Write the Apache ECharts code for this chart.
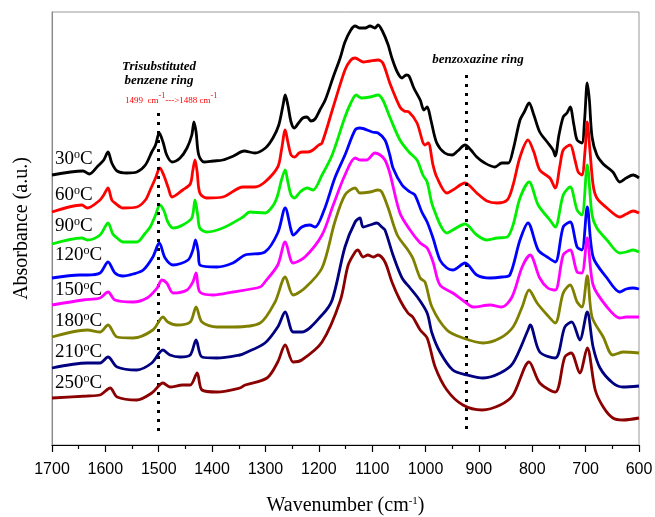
<!DOCTYPE html>
<html>
<head>
<meta charset="utf-8">
<script src="https://cdn.jsdelivr.net/npm/echarts@6/dist/echarts.min.js"></script>
<style>
  html, body { margin: 0; padding: 0; background: #fff; }
  #main { width: 655px; height: 517px; }
</style>
</head>
<body>
<div id="main"></div>
<script>
// FTIR spectra, [wavenumber, absorbance (arbitrary units, stacked)]
var s30 = [[1700,270],[1642,274],[1630,271],[1614,279],[1603,285],[1595,293],[1588,282],[1578,274],[1560,272],[1541,273],[1525,280],[1513,293],[1506,300],[1499,312],[1492,303],[1485,290],[1475,283],[1460,287],[1447,297],[1438,310],[1434,323],[1430,313],[1425,290],[1415,283],[1398,284],[1380,285],[1360,289],[1340,294],[1320,292],[1300,297],[1286,307],[1275,320],[1267,340],[1263,350],[1258,340],[1252,323],[1246,317],[1238,322],[1230,327],[1222,328],[1215,324],[1207,326],[1198,335],[1188,345],[1173,368],[1160,387],[1151,403],[1140,415],[1132,419],[1123,417],[1113,417],[1104,419],[1095,417],[1089,420],[1080,413],[1070,400],[1063,387],[1053,373],[1044,367],[1036,370],[1031,369],[1022,357],[1010,345],[1003,335],[997,338],[990,325],[979,302],[964,292],[950,290],[940,294],[926,300],[915,295],[904,288],[889,282],[870,278],[857,282],[845,282],[836,295],[823,325],[815,333],[806,342],[797,330],[786,313],[772,303],[761,295],[757,289],[750,310],[742,328],[735,332],[729,338],[722,320],[716,305],[707,302],[702,325],[697,362],[693,345],[688,308],[679,290],[667,281],[649,273],[636,263],[624,267],[611,270],[600,267]];

var s60 = [[1700,233],[1644,240],[1634,237],[1610,245],[1603,250],[1595,257],[1588,245],[1582,242],[1567,237],[1541,238],[1525,245],[1516,255],[1506,267],[1498,277],[1490,269],[1482,257],[1475,248],[1455,255],[1441,261],[1436,275],[1432,285],[1428,273],[1423,252],[1410,247],[1380,248],[1342,258],[1320,258],[1301,263],[1277,278],[1270,295],[1263,315],[1258,303],[1252,290],[1245,288],[1237,292],[1230,293],[1220,293],[1211,295],[1200,300],[1194,302],[1173,338],[1151,375],[1140,385],[1132,387],[1117,383],[1104,384],[1089,385],[1080,382],[1067,362],[1048,338],[1040,334],[1031,333],[1016,322],[1001,300],[995,302],[986,280],[979,268],[960,252],[949,255],[926,262],[915,258],[904,252],[885,244],[866,242],[847,245],[836,260],[823,288],[808,305],[797,293],[786,275],[767,267],[757,257],[748,280],[742,295],[729,300],[720,285],[714,273],[707,270],[701,295],[697,323],[692,295],[686,260],[679,247],[660,237],[636,228],[624,231],[611,234],[600,232]];

var s90 = [[1700,201],[1644,207],[1634,205],[1610,210],[1595,222],[1586,211],[1578,207],[1567,203],[1541,203],[1525,212],[1516,218],[1506,230],[1498,240],[1490,234],[1483,223],[1473,217],[1455,220],[1438,227],[1432,245],[1427,230],[1423,217],[1410,213],[1380,217],[1342,228],[1329,233],[1301,232],[1285,240],[1277,250],[1270,265],[1263,275],[1258,263],[1252,250],[1246,247],[1235,253],[1222,257],[1211,255],[1194,270],[1175,290],[1151,328],[1140,342],[1130,350],[1120,347],[1104,348],[1089,350],[1080,345],[1067,328],[1048,305],[1031,293],[1016,285],[1005,270],[997,263],[986,238],[960,212],[949,215],[926,221],[904,210],[885,205],[866,207],[847,208],[836,220],[823,247],[806,263],[789,240],[767,225],[757,218],[742,250],[729,258],[716,235],[707,230],[697,280],[688,230],[679,217],[660,205],[636,192],[624,193],[611,195],[600,193]];

var s120 = [[1700,167],[1648,170],[1634,170],[1610,172],[1595,183],[1582,172],[1567,169],[1548,171],[1529,175],[1511,188],[1499,202],[1488,187],[1473,180],[1445,185],[1436,195],[1431,205],[1426,193],[1423,180],[1391,178],[1361,182],[1338,190],[1301,193],[1277,212],[1263,237],[1252,215],[1248,210],[1232,218],[1217,220],[1207,218],[1190,235],[1170,267],[1151,290],[1132,315],[1123,317],[1100,313],[1089,312],[1076,305],[1067,290],[1061,277],[1044,260],[1029,253],[1020,250],[1007,233],[997,223],[986,207],[973,185],[960,177],[949,175],[926,182],[904,170],[879,167],[857,168],[842,170],[823,205],[808,222],[789,195],[772,188],[757,183],[742,218],[729,223],[716,198],[707,195],[697,238],[686,188],[660,167],[636,153],[624,156],[611,157],[600,156]];

var s150 = [[1700,140],[1642,145],[1610,147],[1595,153],[1582,145],[1548,143],[1522,147],[1503,157],[1494,165],[1485,162],[1473,152],[1447,155],[1436,163],[1430,172],[1423,153],[1398,150],[1361,153],[1310,158],[1301,163],[1277,180],[1263,203],[1248,182],[1226,188],[1194,210],[1173,240],[1151,270],[1132,287],[1123,285],[1110,285],[1095,292],[1085,290],[1076,285],[1067,272],[1048,232],[1029,215],[1010,202],[997,197],[986,183],[973,160],[949,152],[926,143],[911,138],[879,140],[857,138],[838,148],[819,178],[804,190],[786,167],[771,157],[757,155],[742,190],[729,195],[716,173],[707,172],[697,207],[686,160],[660,138],[636,127],[624,128],[611,128],[600,128]];

var s180 = [[1700,108],[1634,115],[1610,113],[1595,120],[1578,108],[1548,107],[1511,115],[1492,128],[1483,123],[1466,120],[1441,123],[1430,138],[1419,123],[1391,118],[1361,118],[1310,122],[1282,143],[1263,168],[1248,150],[1226,157],[1194,177],[1170,223],[1151,250],[1132,257],[1123,252],[1104,253],[1089,255],[1082,253],[1070,237],[1053,210],[1033,195],[1024,187],[1010,167],[1001,163],[988,138],[960,115],[930,107],[892,102],[860,107],[836,118],[819,138],[806,155],[791,142],[772,130],[757,122],[742,152],[729,160],[716,143],[707,138],[697,169],[688,128],[667,108],[649,90],[630,93],[600,92]];

var s210 = [[1700,77],[1634,82],[1610,82],[1595,88],[1578,78],[1541,75],[1513,82],[1492,95],[1479,90],[1460,88],[1441,90],[1430,105],[1419,88],[1391,87],[1348,90],[1338,92],[1301,102],[1277,118],[1263,133],[1248,113],[1232,113],[1194,130],[1175,145],[1151,198],[1132,223],[1123,227],[1117,218],[1104,220],[1091,222],[1082,218],[1076,215],[1061,190],[1044,167],[1029,157],[1014,147],[997,132],[988,112],[973,93],[949,75],[922,70],[892,67],[860,72],[836,82],[808,115],[804,120],[786,93],[757,87],[739,118],[726,123],[711,105],[697,133],[686,98],[673,77],[649,62],[630,58],[600,59]];

var s250 = [[1700,47],[1634,49],[1610,50],[1591,57],[1578,48],[1541,45],[1513,52],[1492,62],[1479,58],[1455,60],[1441,60],[1428,72],[1419,55],[1391,53],[1348,57],[1338,60],[1297,67],[1277,83],[1263,100],[1248,83],[1232,85],[1194,103],[1160,144],[1145,180],[1132,193],[1127,195],[1117,188],[1108,190],[1098,188],[1089,190],[1076,183],[1063,163],[1048,145],[1033,132],[1024,128],[1010,115],[997,107],[982,78],[960,55],[930,40],[894,35],[860,40],[836,50],[806,83],[786,62],[757,53],[739,88],[727,92],[711,72],[697,97],[682,55],[667,38],[649,27],[630,25],[600,27]];

var seriesNames = ['30°C', '60°C', '90°C', '120°C', '150°C', '180°C', '210°C', '250°C'];
var seriesData = [s30, s60, s90, s120, s150, s180, s210, s250];
var seriesColors = ['#000000', '#ff0000', '#00ee00', '#0000ff', '#ff00ff', '#808000', '#000080', '#8b0000'];
var tempLabels = ['30', '60', '90', '120', '150', '180', '210', '250'];
// dotted marker lines: [wavenumber, top value]
var markers = [[1501, 332], [923, 370]];

var myChart = echarts.init(document.getElementById('main'));

var serif = 'Liberation Serif';
var series = [];
for (var i = 0; i < seriesData.length; i++) {
    series.push({
        name: seriesNames[i],
        type: 'line',
        data: seriesData[i],
        showSymbol: false,
        smooth: 0.3,
        lineStyle: {color: seriesColors[i], width: 2.8},
        itemStyle: {color: seriesColors[i]},
        z: 2 + i
    });
}
series[0].markLine = {
    silent: true,
    symbol: 'none',
    label: {show: false},
    lineStyle: {color: '#000', type: [3, 6], width: 3, cap: 'butt'},
    data: markers.map(function (m) {
        return [{coord: [m[0], m[1]]}, {coord: [m[0], 10]}];
    })
};

// temperature labels at the left
var labelBase = [166, 202, 233, 262, 297, 328, 359, 390];
var graphics = tempLabels.map(function (t, k) {
    return {
        type: 'text',
        left: 55,
        top: labelBase[k] - 17,
        z: 100,
        style: {
            text: '{n|' + t + '}{s|o}{n|C}',
            rich: {
                n: {fontSize: 19, fontFamily: serif, fill: '#000', lineHeight: 20},
                s: {fontSize: 12, fontFamily: serif, fill: '#000', verticalAlign: 'top', lineHeight: 18}
            }
        }
    };
});
graphics.push({
    type: 'text', z: 100, x: 159, y: 67,
    style: {text: 'Trisubstituted', fontSize: 13, fontWeight: 'bold', fontStyle: 'italic',
        fontFamily: serif, fill: '#000', align: 'center', verticalAlign: 'middle'}
});
graphics.push({
    type: 'text', z: 100, x: 159, y: 81,
    style: {text: 'benzene ring', fontSize: 13, fontWeight: 'bold', fontStyle: 'italic',
        fontFamily: serif, fill: '#000', align: 'center', verticalAlign: 'middle'}
});
graphics.push({
    type: 'text', z: 100, x: 125, y: 92,
    style: {
        text: '{a|1499  cm}{s|-1}{a|--->1488 cm}{s|-1}',
        rich: {
            a: {fontSize: 9, fontFamily: serif, fill: '#ff0000', lineHeight: 13, verticalAlign: 'bottom'},
            s: {fontSize: 8, fontFamily: serif, fill: '#ff0000', lineHeight: 13, verticalAlign: 'top'}
        }
    }
});
graphics.push({
    type: 'text', z: 100, x: 478, y: 60,
    style: {text: 'benzoxazine ring', fontSize: 13, fontWeight: 'bold', fontStyle: 'italic',
        fontFamily: serif, fill: '#000', align: 'center', verticalAlign: 'middle'}
});

option = {
    backgroundColor: '#fff',
    animation: false,
    grid: {
        left: 52,
        right: 16,
        top: 12,
        bottom: 72,
        outerBoundsMode: 'none',
        show: true,
        borderColor: '#999',
        borderWidth: 1
    },
    xAxis: {
        type: 'value',
        inverse: true,
        min: 600,
        max: 1700,
        interval: 100,
        name: 'Wavenumber (cm{s|-1})',
        nameLocation: 'middle',
        nameGap: 51,
        nameTextStyle: {
            fontFamily: serif, fontSize: 20, color: '#000',
            rich: {s: {fontFamily: serif, fontSize: 11, color: '#000', verticalAlign: 'top'}}
        },
        axisLine: {show: true, onZero: false, lineStyle: {color: '#000', width: 1.2}},
        axisTick: {show: true, length: 7, lineStyle: {color: '#000', width: 1.2}},
        minorTick: {show: true, splitNumber: 2, length: 4, lineStyle: {color: '#000', width: 1.2}},
        axisLabel: {
            margin: 17,
            fontFamily: 'Liberation Sans',
            fontSize: 16,
            color: '#000',
            formatter: function (v) { return String(v); }
        },
        splitLine: {show: false}
    },
    yAxis: {
        type: 'value',
        min: 0,
        max: 433,
        name: 'Absorbance (a.u.)',
        nameLocation: 'middle',
        nameGap: 20,
        nameTextStyle: {fontFamily: serif, fontSize: 20, color: '#000'},
        axisLine: {show: true, lineStyle: {color: '#888', width: 1}},
        axisTick: {show: false},
        axisLabel: {show: false},
        splitLine: {show: false}
    },
    graphic: graphics,
    series: series
};

myChart.setOption(option);
</script>
</body>
</html>
